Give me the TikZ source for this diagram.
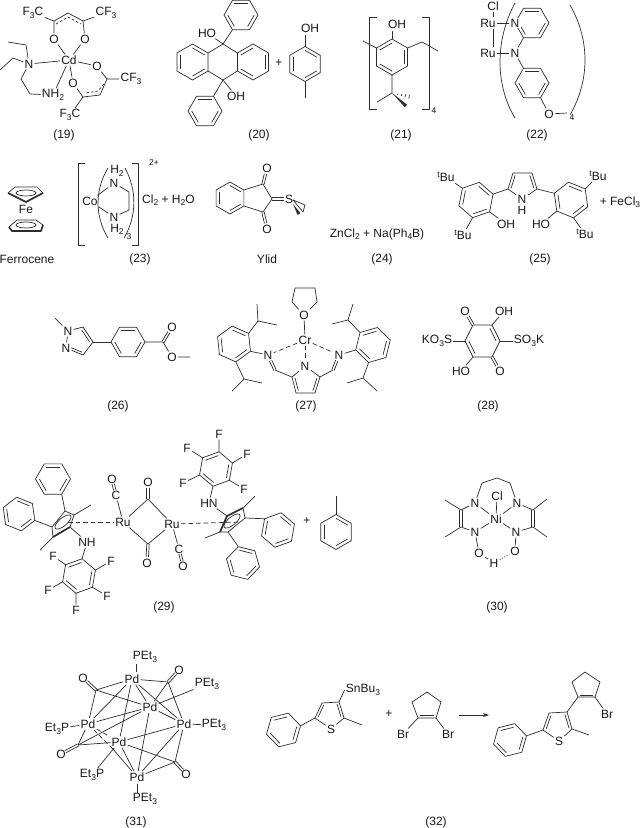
\documentclass[tikz,border=0pt]{standalone}
\usepackage{fontspec}
\setmainfont{Liberation Sans}
\usetikzlibrary{calc, arrows.meta}
\definecolor{bondc}{RGB}{45,45,45}
\newcommand\lsub[1]{{\fontsize{8.5}{8.5}\selectfont\raisebox{-2.4pt}{#1}}}
\newcommand\lsup[1]{{\fontsize{8.5}{8.5}\selectfont\raisebox{4pt}{#1}}}
\newcommand\pts[1]{\foreach \n/\x/\y in {#1}{\coordinate (\n) at (\x,\y);}}
\newcommand\inbond[4][]{\draw[bond,#1] ($(#3)!.22!(#2)$) -- ($(#4)!.22!(#2)$);}
\newcommand\dbl[3][]{\draw[bond,#1] ($(#2)!1.2pt!90:(#3)$) -- ($(#3)!1.2pt!-90:(#2)$);
  \draw[bond,#1] ($(#2)!1.2pt!-90:(#3)$) -- ($(#3)!1.2pt!90:(#2)$);}
\newcommand\ring[5]{\foreach \k in {0,...,5}{\coordinate (#1-\k) at ({#2+#4*cos(#5+60*\k)},{#3+#4*sin(#5+60*\k)});}
  \coordinate (#1-c) at (#2,#3);
  \draw[bond] (#1-0)--(#1-1)--(#1-2)--(#1-3)--(#1-4)--(#1-5)--cycle;
  \inbond{#1-c}{#1-0}{#1-1} \inbond{#1-c}{#1-2}{#1-3} \inbond{#1-c}{#1-4}{#1-5}}
\newcommand\wdg[2]{\fill[bondc] (#1) -- ($(#2)!1.7pt!90:(#1)$) -- ($(#2)!1.7pt!-90:(#1)$) -- cycle;}
\newcommand\hsh[2]{\foreach \t/\w in {.3/.6pt,.5/1pt,.7/1.4pt,.9/1.9pt}{\draw[bond] ($(#1)!\t!(#2)!\w!90:(#2)$) -- ($(#1)!\t!(#2)!\w!-90:(#2)$);}}

\begin{document}
\begin{tikzpicture}[x=1pt, y=-1pt,
    bond/.style={draw=bondc, line width=0.7pt, line join=round},
    dbond/.style={bond, dash pattern=on 2.6pt off 2pt},
    ldbond/.style={bond, dash pattern=on 4.5pt off 3pt},
    tbond/.style={bond, line width=1.7pt},
    lab/.style={font=\fontsize{12}{13}\selectfont, inner sep=0pt, text=black!90},
    atom/.style={lab, inner sep=1.2pt},
    ratom/.style={atom, fill=white},
    sm/.style={font=\fontsize{8.5}{9}\selectfont, inner sep=0pt, text=black!90}]
  \path[use as bounding box, fill=white] (0,0) rectangle (640,828);

  % (19)
  \node[atom] (cd) at (69,60) {Cd};
  \node[atom] (n19) at (29,64) {N};
  \node[atom] (o1) at (54,39) {O};
  \node[atom] (o2) at (85,39) {O};
  \node[atom] (o3) at (97,66) {O};
  \node[atom] (o4) at (73,83) {O};
  \node[atom] (nh) at (53,95) {NH\lsub{2}};
  \node[atom] (f1) at (33,13) {F\lsub{3}C};
  \node[atom] (f2) at (106,13) {CF\lsub{3}};
  \node[atom] (f3) at (131,79) {CF\lsub{3}};
  \node[atom] (f4) at (70,115) {F\lsub{3}C};
  \pts{c1/54/21,c2/68/13,c3/83/21,c4/107/79,c5/100/95,c6/83/97,e1/26/45,e2/8/42,e3/13/58,e4/0/70,e5/21/79,e6/30/94}
  \pts{d1/56/24,d2/68/17,d3/81/24,d4/104/84,d5/98/91,d6/86/93}
  \draw[bond] (f1) -- (c1) -- (c2) -- (c3) -- (f2);
  \draw[bond] (c1) -- (o1) -- (cd) -- (o2) -- (c3);
  \draw[dbond] (d1) -- (d2) -- (d3);
  \draw[bond] (cd) -- (n19);
  \draw[bond] (n19) -- (e1) -- (e2);
  \draw[bond] (n19) -- (e3) -- (e4);
  \draw[bond] (n19) -- (e5) -- (e6) -- (nh);
  \draw[bond] (cd) -- (nh);
  \draw[bond] (cd) -- (o3) -- (c4) -- (f3);
  \draw[bond] (c4) -- (c5) -- (c6) -- (f4);
  \draw[bond] (cd) -- (o4) -- (c6);
  \draw[dbond] (d4) -- (d5) -- (d6);
  \node[lab] (l19) at (64,135) {(19)};

  % (20)
  \ring{la}{192.5}{62}{18}{30}
  \ring{ra}{253}{62}{18}{90}
  \ring{pt}{241}{15}{17}{0}
  \ring{pb}{205}{111}{17}{0}
  \ring{cr}{305}{64}{17.5}{30}
  \pts{ct/223/44,cb/223/80,crt/305/35,crb/305/98}
  \node[atom] (ho20) at (207,33) {HO};
  \node[atom] (oh20) at (236,96) {OH};
  \node[atom] (oh21) at (310,28) {OH};
  \node[lab] (pl20) at (279,63) {+};
  \draw[bond] (la-5) -- (ct) -- (ra-2);
  \draw[bond] (la-0) -- (cb) -- (ra-1);
  \draw[bond] (ct) -- (ho20);
  \draw[bond] (ct) -- (pt-2);
  \draw[bond] (cb) -- (oh20);
  \draw[bond] (cb) -- (pb-5);
  \draw[bond] (cr-4) -- (crt);
  \draw[bond] (cr-1) -- (crb);
  \node[lab] (l20) at (259,135) {(20)};

  % (21)
  \ring{cx}{392}{57}{18}{90}
  \node[atom] (oh3) at (397,24) {OH};
  \pts{oht/392/31,m1/363/41,m2/422/42,m3/438/51,tb/392/93,t1/377/102,t2/406/106,t3/411/97}
  \pts{bl1/377/17,bl2/369/17,bl3/369/109,bl4/377/109,br1/422/17,br2/429/17,br3/429/109,br4/422/109}
  \draw[bond] (cx-3) -- (oht);
  \draw[bond] (cx-2) -- (m1);
  \draw[bond] (cx-4) -- (m2) -- (m3);
  \draw[bond] (cx-0) -- (tb) -- (t1);
  \wdg{tb}{t2}
  \hsh{tb}{t3}
  \draw[bond] (bl1) -- (bl2) -- (bl3) -- (bl4);
  \draw[bond] (br1) -- (br2) -- (br3) -- (br4);
  \node[sm] (s21) at (434,111) {4};
  \node[lab] (l21) at (401,135) {(21)};

  % (22)
  \ring{py}{532}{23}{17}{0}
  \ring{pq}{532}{83}{17}{0}
  \node[atom] (cl22) at (493,6) {Cl};
  \node[atom] (ru1) at (488,23) {Ru};
  \node[atom] (ru2) at (488,53) {Ru};
  \node[ratom] (np) at (515,23) {N};
  \node[atom] (na) at (515,53) {N};
  \node[atom] (o22) at (549,114) {O};
  \pts{e22/567/113,pl1/515/3,pl2/515/118,pr1/570/5,pr2/570/115}
  \draw[bond] (cl22) -- (cl22 |- ru1.north);
  \draw[bond] (cl22 |- ru1.south) -- (cl22 |- ru2.north);
  \draw[bond] (ru1) -- (np);
  \draw[bond] (ru2) -- (na);
  \draw[bond] (na) -- (py-2);
  \draw[bond] (na) -- (pq-4);
  \draw[bond] (pq-1) -- (o22) -- (e22);
  \draw[bond] (pl1) .. controls (495,40) and (495,85) .. (pl2);
  \draw[bond] (pr1) .. controls (590,40) and (590,80) .. (pr2);
  \node[sm] (s22) at (572,118) {4};
  \node[lab] (l22) at (537,135) {(22)};

  % Ferrocene
  \node[atom] (fe) at (26,209) {Fe};
  \pts{fa1/8/193,fa2/15/187,fa3/37/187,fa4/43/193,fa5/26/202,fc1/26/193}
  \pts{fb1/9/227,fb2/17/220,fb3/36/220,fb4/43/225,fb5/41/231,fb6/12/231,fc2/26/225}
  \draw[bond] (fa1) -- (fa2) -- (fa3) -- (fa4);
  \draw[tbond] (fa1) -- (fa5) -- (fa4);
  \draw[bond] (fc1) ellipse [x radius=10pt, y radius=3pt];
  \draw[bond] (fb1) -- (fb2) -- (fb3) -- (fb4);
  \draw[tbond] (fb1) -- (fb6) -- (fb5) -- (fb4);
  \draw[bond] (fc2) ellipse [x radius=10pt, y radius=3pt];
  \node[lab] (lfe) at (27,259) {Ferrocene};

  % (23)
  \node[atom] (co) at (90,201) {Co};
  \node[atom] (n1) at (114,183) {N};
  \node[atom] (n2) at (114,217) {N};
  \node[atom] (h1) at (117,171) {H\lsub{2}};
  \node[atom] (h2) at (117,229.5) {H\lsub{2}};
  \pts{k1/129/192,k2/129/210,a1/108/168,a2/108/238,a3/125/168,a4/124/238}
  \pts{bk1/85/163,bk2/78/163,bk3/78/245,bk4/85/245,bk5/132/163,bk6/138/163,bk7/138/245,bk8/132/245}
  \draw[bond] (co) -- (n1) -- (k1) -- (k2) -- (n2) -- (co);
  \draw[bond] (a1) .. controls (94.7,190) and (94.7,216) .. (a2);
  \draw[bond] (a3) .. controls (137,190) and (137,216) .. (a4);
  \draw[bond] (bk1) -- (bk2) -- (bk3) -- (bk4);
  \draw[bond] (bk5) -- (bk6) -- (bk7) -- (bk8);
  \node[sm] (s23) at (129,237) {3};
  \node[sm] (q23) at (154,163) {2+};
  \node[lab, anchor=west] (t23) at (142,200) {Cl\lsub{2} + H\lsub{2}O};
  \node[lab] (l23) at (140,259) {(23)};

  % Ylid
  \ring{yb}{230}{198}{16}{30}
  \node[atom] (oa) at (267,168) {O};
  \node[atom] (ob) at (267,229) {O};
  \node[atom] (sy) at (289,199) {S};
  \pts{y1/263/184,y2/272/199,y3/263/212,sb/293/204,w1/299/214,sc/293/200,w2/305/205,w3/303/212}
  \draw[bond] (yb-5) -- (y1) -- (y2) -- (y3) -- (yb-0);
  \dbl[shorten >=6pt]{y1}{oa}
  \dbl[shorten >=6pt]{y3}{ob}
  \dbl[shorten >=5pt]{y2}{sy}
  \wdg{sb}{w1}
  \draw[bond] (sc) -- (w2) -- (w3) -- cycle;
  \node[lab] (lyl) at (267,259) {Ylid};

  % (24)
  \node[lab] (t24) at (377,234) {ZnCl\lsub{2} + Na(Ph\lsub{4}B)};
  \node[lab] (l24) at (382,259) {(24)};

  % (25)
  \ring{tl}{476}{200}{18}{41}
  \ring{tr}{571}{200}{18}{22}
  \pts{p1/508/189,p2/513/173,p3/532/173,p4/537/189,pc25/522.5/184}
  \node[atom] (n25) at (522,199) {N};
  \node[atom] (h25) at (522,210) {H};
  \node[atom] (t1b) at (446,177) {\lsup{t}Bu};
  \node[atom] (oh25) at (506,224) {OH};
  \node[atom] (t2b) at (463,235) {\lsup{t}Bu};
  \node[atom] (ho25) at (541,224) {HO};
  \node[atom] (t3b) at (598,176) {\lsup{t}Bu};
  \node[atom] (t4b) at (585,234) {\lsup{t}Bu};
  \node[lab] (fe25) at (620,202) {+ FeCl\lsub{3}};
  \draw[bond] (tl-5) -- (p1) -- (p2) -- (p3) -- (p4) -- (tr-3);
  \draw[bond] (p1) -- (n25) -- (p4);
  \inbond{pc25}{p1}{p2}
  \inbond{pc25}{p3}{p4}
  \draw[bond] (tl-3) -- (t1b);
  \draw[bond] (tl-0) -- (oh25);
  \draw[bond] (tl-1) -- (t2b);
  \draw[bond] (tr-2) -- (ho25);
  \draw[bond] (tr-5) -- (t3b);
  \draw[bond] (tr-1) -- (t4b);
  \node[lab] (l25) at (540,259) {(25)};

  % (26)
  \ring{pz}{128}{342}{17}{0}
  \node[atom] (n1a) at (68,331) {N};
  \node[atom] (n2a) at (66,348) {N};
  \node[atom] (oc) at (172,327) {O};
  \node[atom] (om) at (172,357) {O};
  \pts{ma/55/318,za/83/327,zb/93/342,zc/83/355,zd/78/342,es/163/342,mm/190/357}
  \draw[bond] (ma) -- (n1a) -- (za) -- (zb) -- (zc) -- (n2a) -- (n1a);
  \inbond{zd}{za}{zb}
  \inbond[shorten >=3pt]{zd}{zc}{n2a}
  \draw[bond] (zb) -- (pz-3);
  \draw[bond] (pz-0) -- (es) -- (om) -- (mm);
  \dbl[shorten >=6pt]{es}{oc}
  \node[lab] (l26) at (118,406) {(26)};

  % (27)
  \ring{al}{234}{344}{18}{24}
  \ring{ar}{373}{345}{18}{104}
  \node[atom] (cr27) at (305,340) {Cr};
  \node[atom] (nl) at (268,355) {N};
  \node[atom] (nr) at (339,355) {N};
  \node[atom] (np27) at (305,366) {N};
  \node[atom] (ot) at (304,315) {O};
  \pts{i1/258/321,i2/257/304,i3/277/325,i4/244/379,i5/232/391,i6/262/383}
  \pts{i7/348/320,i8/353/304,i9/332/324,i10/363/378,i11/347/383,i12/377/391}
  \pts{ch1/275/370,ch2/333/370,py1/292/377,py2/296/393,py3/315/393,py4/320/377,pc27/306/382}
  \pts{th1/292/302,th2/295/288,th3/315/288,th4/317/302}
  \draw[bond] (al-5) -- (i1) -- (i2);
  \draw[bond] (i1) -- (i3);
  \draw[bond] (al-1) -- (i4) -- (i5);
  \draw[bond] (i4) -- (i6);
  \draw[bond] (ar-2) -- (i7) -- (i8);
  \draw[bond] (i7) -- (i9);
  \draw[bond] (ar-0) -- (i10) -- (i11);
  \draw[bond] (i10) -- (i12);
  \draw[bond] (al-0) -- (nl);
  \draw[bond] (ar-1) -- (nr);
  \dbl[shorten <=6pt]{nl}{ch1}
  \dbl[shorten <=6pt]{nr}{ch2}
  \draw[bond] (ch1) -- (py1) -- (py2) -- (py3) -- (py4) -- (ch2);
  \draw[bond] (py1) -- (np27) -- (py4);
  \inbond{pc27}{py1}{py2}
  \inbond{pc27}{py3}{py4}
  \draw[ldbond] (cr27) -- (nl);
  \draw[ldbond] (cr27) -- (nr);
  \draw[ldbond] (cr27) -- (np27);
  \draw[bond] (cr27) -- (ot) -- (th1) -- (th2) -- (th3) -- (th4) -- (ot);
  \node[lab] (l27) at (306,406) {(27)};

  % (28)
  \pts{q1/473/325,q2/492/325,q3/500/341,q4/492/357,q5/473/357,q6/465/341,qc/482.5/341}
  \node[atom] (oq1) at (465,311) {O};
  \node[atom] (ohq) at (504,311) {OH};
  \node[atom] (kos) at (437,341) {KO\lsub{3}S};
  \node[atom] (sok) at (529,341) {SO\lsub{3}K};
  \node[atom] (hoq) at (461,371) {HO};
  \node[atom] (oq2) at (500,371) {O};
  \draw[bond] (q1) -- (q2) -- (q3) -- (q4) -- (q5) -- (q6) -- cycle;
  \inbond{qc}{q2}{q3}
  \inbond{qc}{q5}{q6}
  \dbl[shorten >=6pt]{q1}{oq1}
  \dbl[shorten >=6pt]{q4}{oq2}
  \draw[bond] (q2) -- (ohq);
  \draw[bond] (q6) -- (kos);
  \draw[bond] (q3) -- (sok);
  \draw[bond] (q5) -- (hoq);
  \node[lab] (l28) at (488,406) {(28)};

  % (29)
  \ring{pa}{53}{479}{17.5}{0}
  \ring{pe}{19}{514}{17}{22}
  \ring{fl}{79}{576}{17.5}{100}
  \ring{fu}{216}{469}{17.5}{100}
  \ring{pg}{278}{530}{17.5}{40}
  \ring{ph}{243}{563}{17}{14}
  \ring{tl2}{336}{532}{17.5}{30}
  \node[atom] (rua) at (123,522) {Ru};
  \node[atom] (rub) at (172,524) {Ru};
  \node[atom] (nhl) at (87,542) {NH};
  \node[atom] (hnr) at (209,503) {HN};
  \node[atom] (oc1) at (112,479) {O};
  \node[atom] (cc1) at (116,495) {C};
  \node[atom] (cc2) at (179,549) {C};
  \node[atom] (oc2) at (183,566) {O};
  \node[atom] (ob1) at (148,482) {O};
  \node[atom] (ob2) at (147,563) {O};
  \foreach \n/\x/\y/\v in {fa/53/556/fl-2,fb/111/561/fl-4,fc/48/590/fl-1,fd/107/596/fl-5,fe/76/610/fl-0,
      fg/219/434/fu-3,fh/187/448/fu-2,fi/247/454/fu-4,fj/183/483/fu-1,fk/244/489/fu-5}{
    \node[atom] (\n) at (\x,\y) {F};
    \draw[bond] (\v) -- (\n);
  }
  \pts{cl1/65/511,cl2/52/527,cl3/53/537,cl4/70/527,cl5/74/515,ml1/91/505,ml2/40/550,cpd/68/522}
  \pts{ec1/63/522,cr1/227/516,cr2/243/508,cr3/245/518,cr4/228/532,cr5/220/532,mr1/255/496,mr2/205/538,ec2/232/521,cpe/240/522}
  \pts{b1/148/499,b2/148/544,tm/336/496}
  \draw[bond] (pa-1) -- (cl1);
  \draw[bond] (pe-0) -- (cl2);
  \draw[bond] (cl3) -- (cl2) -- (cl1) -- (cl5) -- (cl4);
  \draw[tbond] (cl3) -- (cl4);
  \draw[bond, rotate around={40:(ec1)}] (ec1) ellipse [x radius=10pt, y radius=4pt];
  \draw[bond] (cl5) -- (ml1);
  \draw[bond] (cl3) -- (ml2);
  \draw[bond] (cl4) -- (nhl) -- (fl-3);
  \draw[ldbond] (cpd) -- (rua);
  \dbl[shorten <=5pt, shorten >=5pt]{oc1}{cc1}
  \draw[bond] (cc1) -- (rua);
  \draw[bond] (rua) -- (b1) -- (rub) -- (b2) -- (rua);
  \dbl[shorten >=6pt]{b1}{ob1}
  \dbl[shorten >=6pt]{b2}{ob2}
  \draw[bond] (rub) -- (cc2);
  \dbl[shorten <=5pt, shorten >=5pt]{cc2}{oc2}
  \draw[ldbond] (rub) -- (cpe);
  \draw[bond] (cr2) -- (cr3) -- (cr4) -- (cr5);
  \draw[tbond] (cr5) -- (cr1) -- (cr2);
  \draw[bond, rotate around={40:(ec2)}] (ec2) ellipse [x radius=10pt, y radius=4pt];
  \draw[bond] (cr2) -- (mr1);
  \draw[bond] (cr5) -- (mr2);
  \draw[bond] (cr1) -- (hnr) -- (fu-0);
  \draw[bond] (cr3) -- (pg-3);
  \draw[bond] (cr4) -- (ph-4);
  \node[lab] (pl29) at (307,521) {+};
  \draw[bond] (tl2-4) -- (tm);
  \node[lab] (l29) at (164,607) {(29)};

  % (30)
  \node[atom] (ni) at (496,519) {Ni};
  \node[atom] (cl30) at (497,496) {Cl};
  \node[atom] (na30) at (475,503) {N};
  \node[atom] (nb30) at (517,503) {N};
  \node[atom] (nc30) at (475,532) {N};
  \node[atom] (nd30) at (516,532) {N};
  \node[atom] (oa30) at (479,553) {O};
  \node[atom] (ob30) at (515,551) {O};
  \node[atom] (h30) at (494,563) {H};
  \pts{k3/482/483,k4/497/478,k5/510/483,ca/461/510,cb3/461/527,cc/533/510,cd3/533/527}
  \pts{m5/445/500,m6/445/537,m7/547/499,m8/547/537}
  \draw[bond] (na30) -- (k3) -- (k4) -- (k5) -- (nb30);
  \draw[bond] (cl30) -- (ni);
  \draw[bond] (na30) -- (ni) -- (nb30);
  \draw[bond] (nc30) -- (ni) -- (nd30);
  \draw[bond] (m5) -- (ca) -- (na30);
  \draw[bond] (m6) -- (cb3) -- (nc30);
  \draw[bond] (m7) -- (cc) -- (nb30);
  \draw[bond] (m8) -- (cd3) -- (nd30);
  \dbl{ca}{cb3}
  \dbl{cc}{cd3}
  \draw[bond] (nc30) -- (oa30) -- (h30);
  \draw[bond] (nd30) -- (ob30);
  \draw[bond, dotted, line width=1pt] (h30) -- (ob30);
  \node[lab] (l30) at (497,607) {(30)};

  % (31)
  \node[atom] (pd1) at (132,679) {Pd};
  \node[atom] (pd2) at (150,707) {Pd};
  \node[atom] (pd3) at (88,724) {Pd};
  \node[atom] (pd4) at (184,724) {Pd};
  \node[atom] (pd5) at (119,742) {Pd};
  \node[atom] (pd6) at (137,777) {Pd};
  \node[atom] (et1) at (145,657) {PEt\lsub{3}};
  \node[atom] (et2) at (207,684) {PEt\lsub{3}};
  \node[atom] (et3) at (214,725) {PEt\lsub{3}};
  \node[atom] (et4) at (57,729) {Et\lsub{3}P};
  \node[atom] (et5) at (92,775) {Et\lsub{3}P};
  \node[atom] (et6) at (145,799) {PEt\lsub{3}};
  \node[atom] (oa31) at (83,678) {O};
  \node[atom] (ob31) at (179,670) {O};
  \node[atom] (oc31) at (61,754) {O};
  \node[atom] (od31) at (186,774) {O};
  \pts{ca1/96/690,cb1/168/682,cc1a/78/745,cd1/175/762,t5/136/664,t6/136/672,t7/137/784,t8/137/793,x1/112/748}
  \draw[bond] (t5) -- (t6);
  \draw[bond] (t7) -- (t8);
  \draw[bond] (et2) -- (pd2);
  \draw[bond] (pd4) -- (et3);
  \draw[bond] (et4) -- (pd3);
  \draw[bond] (et5) -- (pd5);
  \dbl[shorten >=5pt]{ca1}{oa31}
  \dbl[shorten >=5pt]{cb1}{ob31}
  \dbl[shorten >=5pt]{cc1a}{oc31}
  \dbl[shorten >=5pt]{cd1}{od31}
  \foreach \a/\b in {ca1/pd1,ca1/pd2,ca1/pd3,cb1/pd1,cb1/pd2,cb1/pd4,cc1a/pd3,cc1a/pd2,cc1a/pd5,cd1/pd5,cd1/pd4,cd1/pd6,
      pd1/pd3,pd1/pd2,pd1/pd4,pd1/pd5,pd2/pd3,pd2/pd4,pd2/pd6,pd5/pd4,pd5/pd6,pd4/pd6}
    \draw[bond] (\a) -- (\b);
  \draw[ldbond] (pd3) -- (pd5);
  \draw[ldbond] (pd3) -- (x1);
  \draw[bond] (x1) -- (pd6);
  \node[lab] (l31) at (136,822) {(31)};

  % (32)
  \ring{pi}{283.5}{730}{17.5}{106}
  \ring{pj}{510}{740}{17}{106}
  \node[atom] (s1) at (331,729) {S};
  \node[atom] (sn) at (363,690) {SnBu\lsub{3}};
  \node[atom] (br1a) at (403,734) {Br};
  \node[atom] (br2a) at (448,734) {Br};
  \node[atom] (s2) at (559,741) {S};
  \node[atom] (br3a) at (607,714) {Br};
  \node[lab] (pl32) at (389,714) {+};
  \pts{g1/315/718,g2/322/703,g3/339/702,g4/344/718,gc/330/712,gm/362/725}
  \pts{u1/412/702,u2/427/692,u3/441/702,u4/436/718,u5/418/718,uc/427/707}
  \pts{ar1/459/715,ar2/489/715}
  \pts{v1/543/730,v2/549/713,v3/567/712,v4/572/729,vc/558/724,vm/589/735}
  \pts{w4/578/697,w5/572/682,w6/585/672,w7/600/682,w8/595/697,wc/586/688}
  \draw[bond] (pi-4) -- (g1);
  \draw[bond] (g1) -- (g2) -- (g3) -- (g4) -- (s1) -- (g1);
  \inbond{gc}{g1}{g2}
  \inbond{gc}{g3}{g4}
  \draw[bond] (g4) -- (gm);
  \draw[bond] (g3) -- (sn.west);
  \draw[bond] (u5) -- (u1) -- (u2) -- (u3) -- (u4) -- (u5);
  \inbond{uc}{u4}{u5}
  \draw[bond] (u5) -- (br1a);
  \draw[bond] (u4) -- (br2a);
  \draw[bond, -{Stealth[length=6pt, width=4pt]}] (ar1) -- (ar2);
  \draw[bond] (pj-4) -- (v1);
  \draw[bond] (v1) -- (v2) -- (v3) -- (v4) -- (s2) -- (v1);
  \inbond{vc}{v1}{v2}
  \inbond{vc}{v3}{v4}
  \draw[bond] (v4) -- (vm);
  \draw[bond] (v3) -- (w4) -- (w5) -- (w6) -- (w7) -- (w8) -- (w4);
  \inbond{wc}{w4}{w8}
  \draw[bond] (w8) -- (br3a);
  \node[lab] (l32) at (436,822) {(32)};
\end{tikzpicture}
\end{document}
